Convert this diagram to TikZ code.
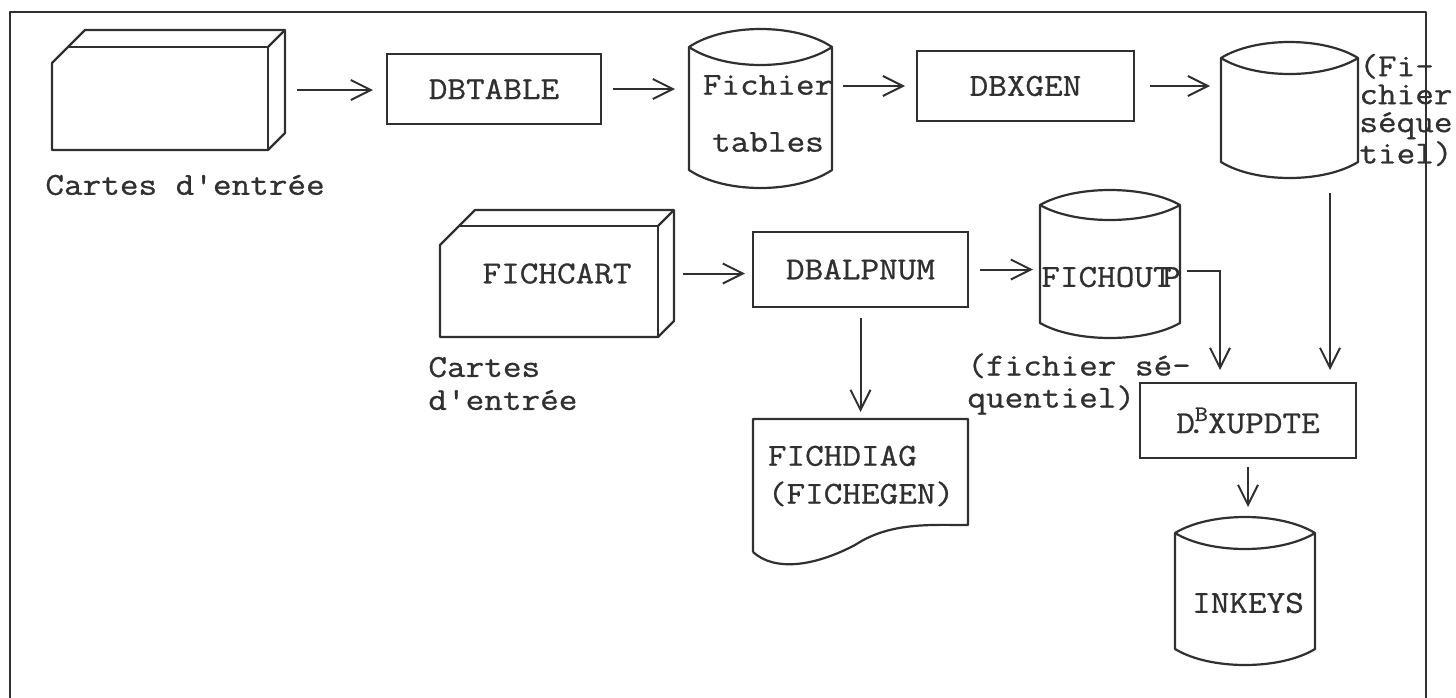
\documentclass[tikz,border=0pt]{standalone}
\usepackage{fontspec}
\setmonofont[FakeStretch=1.13,FakeBold=0.8]{Latin Modern Mono}
\usetikzlibrary{calc,arrows.meta}
\definecolor{inkc}{HTML}{303030}
% card deck shape drawn round a named node: #1 name, #2 depth, #3 chamfer (px)
\newcommand\cardshape[3]{%
  \draw[ink] (#1.south west) -- ($(#1.north west)+(0,#2+#3)$) -- ($(#1.north west)+(#3,#2)$)
    -- ($(#1.north west)+(#3+#2,0)$) -- (#1.north east) -- ($(#1.south east)+(0,-#2)$)
    -- ($(#1.south east)+(-#2,0)$) -- cycle;
  \draw[ink] ($(#1.north west)+(#3,#2)$) -- ($(#1.north east)+(-#2,#2)$) -- ($(#1.south east)+(-#2,0)$);
  \draw[ink] ($(#1.north east)+(-#2,#2)$) -- (#1.north east);
}
% disk (cylinder) shape drawn round a named node: #1 name, #2 bulge (px)
\newcommand\cylshape[2]{%
  \draw[ink] ($(#1.north west)+(0,#2)$)
     .. controls ($(#1.north west)!0.25!(#1.north east)+(0,-#2/3)$) and ($(#1.north west)!0.75!(#1.north east)+(0,-#2/3)$)
     .. ($(#1.north east)+(0,#2)$)
     .. controls ($(#1.north west)!0.75!(#1.north east)+(0,7*#2/3)$) and ($(#1.north west)!0.25!(#1.north east)+(0,7*#2/3)$)
     .. ($(#1.north west)+(0,#2)$) -- ($(#1.south west)+(0,-#2)$)
     .. controls ($(#1.south west)!0.25!(#1.south east)+(0,#2/3)$) and ($(#1.south west)!0.75!(#1.south east)+(0,#2/3)$)
     .. ($(#1.south east)+(0,-#2)$) -- ($(#1.north east)+(0,#2)$);
}
\begin{document}
\begin{tikzpicture}[x=0.5pt,y=-0.5pt,
  ink/.style={draw=inkc, line width=1.1pt, line join=round},
  box/.style={draw=inkc, line width=1.1pt, inner sep=0pt, outer sep=0pt, text=inkc,
    font=\ttfamily\fontsize{16}{16.5}\selectfont},
  shapebox/.style={inner sep=0pt, outer sep=0pt, text=inkc,
    font=\ttfamily\fontsize{16}{16.5}\selectfont},
  lbl/.style={inner sep=0pt, text=inkc, font=\ttfamily\fontsize{16}{16.5}\selectfont},
  arr/.style={draw=inkc, line width=1pt, -{Straight Barb[length=10pt,width=10pt]}},
]
\useasboundingbox (0,0) rectangle (1456,697);
\fill[white] (0,0) rectangle (1456,697);
% frame
\draw[ink] (10,700) -- (10,12) -- (1426,12) -- (1426,700);

% top row
\node[shapebox, minimum width=116.5pt, minimum height=60pt] (c1) at (168.5,90) {};
\cardshape{c1}{17}{16}
\node[lbl, anchor=west] (c1lbl) at (45,185) {Cartes d'entrée};

\node[box, minimum width=107pt, minimum height=35pt] (dbtable) at (494,89) {DBTABLE};

\node[shapebox, minimum width=71.5pt, minimum height=79.5pt] (ft) at (760.5,108.5) {};
\cylshape{ft}{18}
\node[lbl, align=center, font=\ttfamily\fontsize{16}{28.5}\selectfont] (ftlbl) at (768,113.5) {Fichier\\tables};

\node[box, minimum width=108.5pt, minimum height=35pt] (dbxgen) at (1025.5,86) {DBXGEN\hspace{28pt}};

\node[shapebox, minimum width=68.5pt, minimum height=68pt] (seq) at (1289.5,110) {};
\cylshape{seq}{16}
\node[lbl, anchor=west, align=left, font=\ttfamily\fontsize{16}{14}\selectfont] (seqlbl) at (1359,110) {(Fi-\\chier\\séque\\tiel)};

% middle row
\node[shapebox, minimum width=117pt, minimum height=63.5pt] (card2) at (557,273.5) {FICHCART};
\cardshape{card2}{16}{19}
\node[lbl, anchor=west, align=left] (c2lbl) at (428,383.5) {Cartes\\d'entrée};

\node[box, minimum width=107.5pt, minimum height=37.5pt] (dbalpnum) at (860.5,269.5) {DBALPNUM\hspace{14pt}};

\node[shapebox, minimum width=70pt, minimum height=74pt] (fichout) at (1110,264) {};
\cylshape{fichout}{15}
\node[lbl] (fichoutlbl) at (1111,277) {FICHOUT\kern-0.3emP};
\node[lbl, anchor=west, align=left, font=\ttfamily\fontsize{16}{16}\selectfont] (seqlbl2) at (967,384) {(fichier sé-\\quentiel)};

% document FICHDIAG
\node[shapebox, minimum width=107.5pt, minimum height=66.5pt] (fichdiag) at (860.5,485.5) {};
\draw[ink] (fichdiag.south west) -- (fichdiag.north west) -- (fichdiag.north east) -- ($(fichdiag.south east)+(0,-27)$)
  .. controls ($(fichdiag.south west)+(177,-27)$) and ($(fichdiag.south west)+(137,-30)$) .. ($(fichdiag.south west)+(102,-7)$)
  .. controls ($(fichdiag.south west)+(62,14)$) and ($(fichdiag.south west)+(22,20)$) .. (fichdiag.south west);
\node[lbl, align=left, font=\ttfamily\fontsize{16}{19}\selectfont] (fichdiaglbl) at (861,476) {FICHDIAG\\(FICHEGEN)};

% update program and its output
\node[box, minimum width=108pt, minimum height=37.5pt] (dbxupdte) at (1248,420.5)
  {D\rlap{\kern-0.25em.}\raisebox{0.38em}{\fontsize{11}{11}\selectfont B}XUPDTE};

\node[shapebox, minimum width=70pt, minimum height=74pt] (inkeys) at (1245,591) {};
\cylshape{inkeys}{16}
\node[lbl] (inkeyslbl) at (1248,603) {INKEYS};

% connectors
\coordinate (xr) at ([xshift=-13pt]dbxupdte.north east);
\coordinate (xl) at ([xshift=40pt]dbxupdte.north west);
\draw[arr, shorten <=6pt, shorten >=7pt] (c1.east) -- (dbtable.west |- c1.east);
\draw[arr, shorten <=6pt, shorten >=7pt] (dbtable.east) -- (ft.west |- dbtable.east);
\draw[arr, shorten <=5.5pt, shorten >=6pt] (ft.east |- dbxgen.west) -- (dbxgen.west);
\draw[arr, shorten <=8pt, shorten >=5.5pt] (dbxgen.east) -- (seq.west |- dbxgen.east);
\draw[arr, shorten <=7.5pt, shorten >=6.5pt] (seq.south -| xr) -- (xr);
\draw[arr, shorten <=4.5pt, shorten >=4pt] (card2.east) -- (dbalpnum.west |- card2.east);
\draw[arr, shorten <=6pt, shorten >=3.5pt] (dbalpnum.east) -- (fichout.west |- dbalpnum.east);
\draw[arr, shorten <=5.5pt, shorten >=3.5pt] (dbalpnum.south) -- (fichdiag.north);
\draw[arr, shorten <=3.5pt, shorten >=6.5pt] ([yshift=-3.5pt]fichout.east) -| (xl);
\draw[arr, shorten <=4.5pt, shorten >=5pt] (dbxupdte.south) -- (dbxupdte.south |- inkeys.north);
\end{tikzpicture}
\end{document}
